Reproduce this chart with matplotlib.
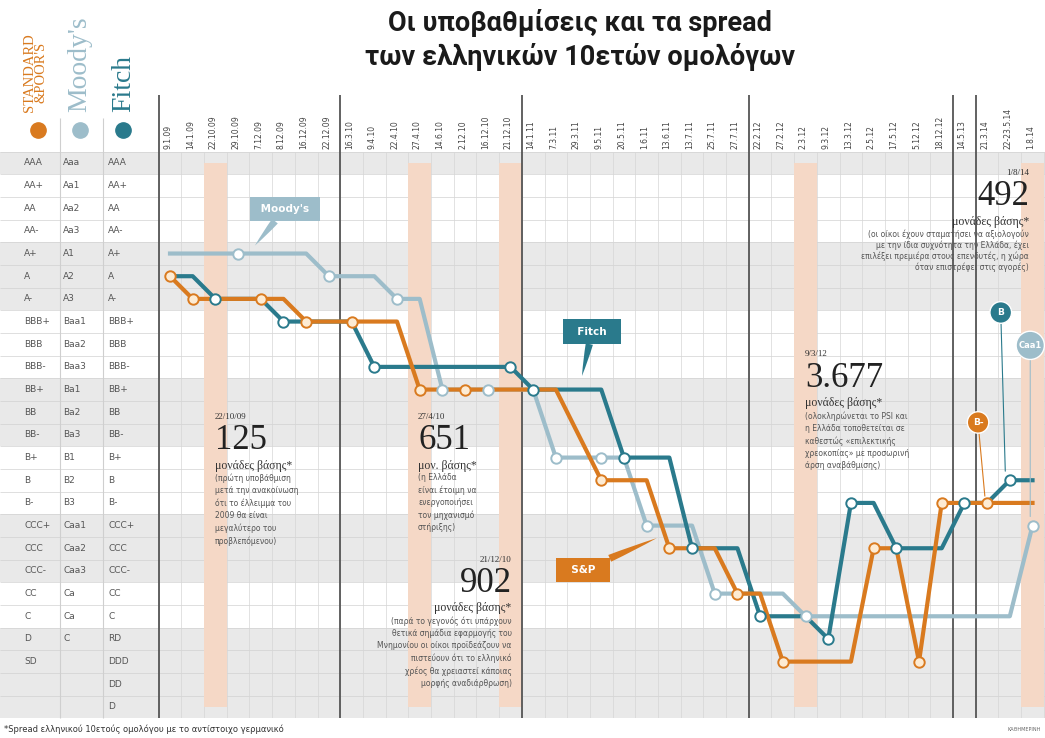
import numpy as np
import matplotlib
matplotlib.use("Agg")
import matplotlib.pyplot as plt

# Ημερομηνίες αλλαγών (στήλες)
dates = ["9.1.09", "14.1.09", "22.10.09", "29.10.09", "7.12.09", "8.12.09", "16.12.09",
         "22.12.09", "16.3.10", "9.4.10", "22.4.10", "27.4.10", "14.6.10", "2.12.10",
         "16.12.10", "21.12.10", "14.1.11", "7.3.11", "29.3.11", "9.5.11", "20.5.11",
         "1.6.11", "13.6.11", "13.7.11", "25.7.11", "27.7.11", "22.2.12", "27.2.12",
         "2.3.12", "9.3.12", "13.3.12", "2.5.12", "17.5.12", "5.12.12", "18.12.12",
         "14.5.13", "21.3.14", "22-23.5.14", "1.8.14"]

# Κλίμακες αξιολόγησης (γραμμές, 0 = AAA)
sp_labels = ["AAA", "AA+", "AA", "AA-", "A+", "A", "A-", "BBB+", "BBB", "BBB-", "BB+", "BB",
             "BB-", "B+", "B", "B-", "CCC+", "CCC", "CCC-", "CC", "C", "D", "SD", "", ""]
md_labels = ["Aaa", "Aa1", "Aa2", "Aa3", "A1", "A2", "A3", "Baa1", "Baa2", "Baa3", "Ba1", "Ba2",
             "Ba3", "B1", "B2", "B3", "Caa1", "Caa2", "Caa3", "Ca", "Ca", "C", "", "", ""]
ft_labels = ["AAA", "AA+", "AA", "AA-", "A+", "A", "A-", "BBB+", "BBB", "BBB-", "BB+", "BB",
             "BB-", "B+", "B", "B-", "CCC+", "CCC", "CCC-", "CC", "C", "RD", "DDD", "DD", "D"]

# Αξιολόγηση ανά ημερομηνία (δείκτης γραμμής)
sp = [5, 6, 6, 6, 6, 6, 7, 7, 7, 7, 7, 10, 10, 10, 10, 10, 10, 10, 12, 14, 14, 14, 17, 17, 17,
      19, 19, 22, 22, 22, 22, 17, 17, 22, 15, 15, 15, 15, 15]
md = [4, 4, 4, 4, 4, 4, 4, 5, 5, 5, 6, 6, 10, 10, 10, 10, 10, 13, 13, 13, 13, 16, 16, 16, 19,
      19, 19, 19, 20, 20, 20, 20, 20, 20, 20, 20, 20, 20, 16]
ft = [5, 5, 6, 6, 6, 7, 7, 7, 7, 9, 9, 9, 9, 9, 9, 9, 10, 10, 10, 10, 13, 13, 13, 17, 17, 17,
      20, 20, 20, 21, 15, 15, 17, 17, 17, 15, 15, 14, 14]

# Σε ποιες ημερομηνίες υπάρχει κίνηση του κάθε οίκου (κουκκίδες)
sp_marks = [0, 1, 4, 6, 8, 11, 13, 19, 22, 25, 27, 31, 33, 34, 36]
md_marks = [3, 7, 10, 12, 14, 17, 19, 21, 24, 28, 38]
ft_marks = [2, 5, 9, 15, 16, 20, 23, 26, 29, 30, 32, 35, 37]

# Spread σε σημαντικές ημερομηνίες
spread_cols = [2, 11, 15, 28, 38]
spread_dates = ["22/10/09", "27/4/10", "21/12/10", "9/3/12", "1/8/14"]
spread_values = ["125", "651", "902", "3.677", "492"]
spread_units = ["μονάδες βάσης*", "μον. βάσης*", "μονάδες βάσης*", "μονάδες βάσης*", "μονάδες βάσης*"]
spread_notes = [
    "(πρώτη υποβάθμιση\nμετά την ανακοίνωση\nότι το έλλειμμα του\n2009 θα είναι\nμεγαλύτερο του\nπροβλεπόμενου)",
    "(η Ελλάδα\nείναι έτοιμη να\nενεργοποιήσει\nτον μηχανισμό\nστήριξης)",
    "(παρά το γεγονός ότι υπάρχουν\nθετικά σημάδια εφαρμογής του\nΜνημονίου οι οίκοι προϊδεάζουν να\nπιστεύουν ότι το ελληνικό\nχρέος θα χρειαστεί κάποιας\nμορφής αναδιάρθρωση)",
    "(ολοκληρώνεται το PSI και\nη Ελλάδα τοποθετείται σε\nκαθεστώς «επιλεκτικής\nχρεοκοπίας» με προσωρινή\nάρση αναβάθμισης)",
    "(οι οίκοι έχουν σταματήσει να αξιολογούν\nμε την ίδια συχνότητα την Ελλάδα, έχει\nεπιλέξει πρεμιέρα στους επενδυτές, η χώρα\nόταν επιστρέφει στις αγορές)",
]

# Χρώματα
c_sp = "#d97a1f"
c_md = "#9dbdca"
c_ft = "#2a7a8c"
c_band = "#f5d8c6"
c_gray = "#e9e9e9"

x = np.arange(len(dates))
n_rows = len(ft_labels)

fig = plt.figure(figsize=(10.45, 7.38), dpi=100)
ax = fig.add_axes([0, 0.0267, 1, 0.768])
ax.set_xlim(-7.49, 38.55)
ax.set_ylim(n_rows - 0.5, -0.5)
ax.axis("off")

# Γκρι ζώνες γραμμών
for r in [0, 4, 5, 6, 10, 11, 12, 16, 17, 18, 21, 22, 23, 24]:
    ax.axhspan(r - 0.5, r + 0.5, color=c_gray, lw=0, zorder=0)
ax.hlines(np.arange(n_rows + 1) - 0.5, -7.49, 38.55, color="#d2d2d2", lw=0.5, zorder=1)
ax.vlines(np.arange(len(dates) + 1) - 0.5, -0.5, n_rows - 0.5, color="#d6d6d6", lw=0.5, zorder=1)

# Πορτοκαλί ζώνες στις ημερομηνίες spread
ax.bar(spread_cols, [n_rows - 1] * len(spread_cols), bottom=0, width=1.0, color=c_band, zorder=1.5)

# Διαχωριστικά ετών
ax.vlines([-0.5, 7.5, 15.5, 25.5, 34.5, 35.5], n_rows - 0.5, -3.0, color="#555555", lw=1.3,
          clip_on=False, zorder=3)
ax.vlines([-4.85, -2.95], n_rows - 0.5, -2.0, color="#cfcfcf", lw=0.8, clip_on=False, zorder=3)

# Ετικέτες αξιολογήσεων
for r in range(n_rows):
    ax.text(-6.43, r, sp_labels[r], fontsize=6.5, color="#555555", va="center", ha="left")
    ax.text(-4.71, r, md_labels[r], fontsize=6.5, color="#555555", va="center", ha="left")
    ax.text(-2.73, r, ft_labels[r], fontsize=6.5, color="#555555", va="center", ha="left")

# Ημερομηνίες πάνω
for i, d in enumerate(dates):
    ax.text(i - 0.1, -0.62, d, rotation=90, fontsize=5.5, color="#444444", ha="center", va="bottom")

# Υπόμνημα οίκων
ax.text(-5.95, -2.25, "STANDARD\n&POOR'S", rotation=90, family="Liberation Serif", fontsize=10.5,
        color=c_sp, ha="center", va="bottom", linespacing=0.85, clip_on=False)
ax.text(-3.96, -2.25, "Moody's", rotation=90, family="Liberation Serif", fontsize=20,
        color=c_md, ha="center", va="bottom", clip_on=False)
ax.text(-2.03, -2.25, "Fitch", rotation=90, family="Liberation Serif", fontsize=20,
        color=c_ft, ha="center", va="bottom", clip_on=False)
for xx, cc in zip([-5.81, -3.96, -2.07], [c_sp, c_md, c_ft]):
    ax.plot(xx, -1.46, marker="o", ms=11, color=cc, clip_on=False, zorder=5)

# Γραμμές αξιολογήσεων
ax.plot(x, md, color=c_md, lw=3, zorder=4)
ax.plot(x, ft, color=c_ft, lw=3, zorder=5)
ax.plot(x, sp, color=c_sp, lw=3, zorder=6)
ax.plot(md_marks, [md[i] for i in md_marks], ls="none", marker="o", ms=7.5, mfc="white",
        mec=c_md, mew=1.4, zorder=7)
ax.plot(ft_marks, [ft[i] for i in ft_marks], ls="none", marker="o", ms=7.5, mfc="white",
        mec=c_ft, mew=1.4, zorder=7)
ax.plot(sp_marks, [sp[i] for i in sp_marks], ls="none", marker="o", ms=7.5, mfc="#fdebd3",
        mec=c_sp, mew=1.4, zorder=8)

# Σχόλια spread
ann_x = [1.98, 10.93, 15.05, 27.97, 37.85]
ann_row = [11.2, 11.2, 17.5, 8.45, 0.45]
ann_ha = ["left", "left", "right", "left", "right"]
for k in range(len(spread_cols)):
    xx, rr, ha = ann_x[k], ann_row[k], ann_ha[k]
    ax.text(xx, rr, spread_dates[k], family="Liberation Serif", fontsize=6.5, color="#333333",
            ha=ha, va="center", zorder=9)
    ax.text(xx, rr + 1.05, spread_values[k], family="Liberation Serif", fontsize=25,
            color="#222222", ha=ha, va="center", zorder=9)
    ax.text(xx, rr + 2.15, spread_units[k], family="Liberation Serif", fontsize=8.5,
            color="#333333", ha=ha, va="center", zorder=9)
    ax.text(xx, rr + 2.5, spread_notes[k], fontsize=5.5, color="#555555", ha=ha, va="top",
            multialignment=ha, linespacing=1.45 if k < 4 else 1.2, zorder=9)

# Ετικέτες οίκων με βέλος
arrow_kw = dict(arrowstyle="wedge,tail_width=0.7,shrink_factor=0.6", ec="none", shrinkA=0, shrinkB=0)
ax.annotate(" Moody's ", xy=(3.74, 3.65), xytext=(5.07, 2.03), ha="center", va="center",
            color="white", fontsize=7.5, fontweight="bold", zorder=9,
            bbox=dict(boxstyle="square,pad=0.7", fc=c_md, ec="none"),
            arrowprops=dict(fc=c_md, **arrow_kw))
ax.annotate("  Fitch  ", xy=(18.15, 9.4), xytext=(18.6, 7.45), ha="center", va="center",
            color="white", fontsize=7.5, fontweight="bold", zorder=9,
            bbox=dict(boxstyle="square,pad=0.7", fc=c_ft, ec="none"),
            arrowprops=dict(fc=c_ft, **arrow_kw))
ax.annotate("  S&P  ", xy=(21.45, 16.55), xytext=(18.2, 17.95), ha="center", va="center",
            color="white", fontsize=7.5, fontweight="bold", zorder=9,
            bbox=dict(boxstyle="square,pad=0.7", fc=c_sp, ec="none"),
            arrowprops=dict(fc=c_sp, **arrow_kw))

# Τρέχουσες αξιολογήσεις
ax.annotate("B", xy=(36.8, 13.6), xytext=(36.6, 6.6), ha="center", va="center", color="white",
            fontsize=6.5, fontweight="bold", zorder=9,
            bbox=dict(boxstyle="circle,pad=0.7", fc=c_ft, ec="white", lw=1),
            arrowprops=dict(arrowstyle="-", color=c_ft, lw=0.8, shrinkA=0, shrinkB=0))
ax.annotate("Caa1", xy=(37.9, 15.6), xytext=(37.9, 8.05), ha="center", va="center", color="white",
            fontsize=6, fontweight="bold", zorder=9,
            bbox=dict(boxstyle="circle,pad=0.3", fc=c_md, ec="white", lw=1),
            arrowprops=dict(arrowstyle="-", color=c_md, lw=0.8, shrinkA=0, shrinkB=0))
ax.annotate("B-", xy=(35.9, 14.7), xytext=(35.6, 11.45), ha="center", va="center", color="white",
            fontsize=6.5, fontweight="bold", zorder=9,
            bbox=dict(boxstyle="circle,pad=0.6", fc=c_sp, ec="white", lw=1),
            arrowprops=dict(arrowstyle="-", color=c_sp, lw=0.8, shrinkA=0, shrinkB=0))

# Τίτλος και υποσημείωση
fig.text(0.555, 0.988, "Οι υποβαθμίσεις και τα spread\nτων ελληνικών 10ετών ομολόγων",
         family="Roboto", fontweight="bold", fontsize=19.5, color="#1a1a1a", ha="center", va="top",
         linespacing=1.3)
fig.text(0.004, 0.012, "*Spread ελληνικού 10ετούς ομολόγου με το αντίστοιχο γερμανικό",
         fontsize=6, color="#333333", ha="left", va="center")
fig.text(0.996, 0.012, "ΚΑΘΗΜΕΡΙΝΗ", fontsize=3.5, color="#666666", ha="right", va="center")

fig.savefig("out.png", dpi=100)
